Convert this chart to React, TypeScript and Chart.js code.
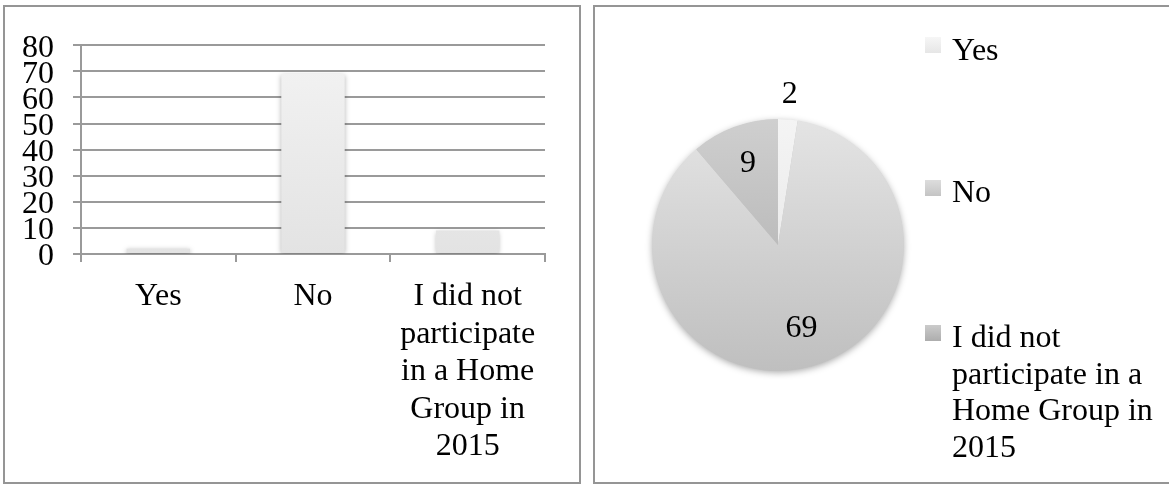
import React, { useEffect, useRef } from "react";
import { Chart, registerables } from "chart.js";

Chart.register(...registerables);

// ---------- data ----------
const categories = ["Yes", "No", "I did not participate in a Home Group in 2015"];
const responses = [2, 69, 9];
const axisTickLines = [["Yes"], ["No"], ["I did not", "participate", "in a Home", "Group in", "2015"]];
const legendLines = [["Yes"], ["No"], ["I did not", "participate in a", "Home Group in", "2015"]];
const yMin = 0;
const yMax = 80;
const yStep = 10;

// ---------- styles ----------
const FONT = "'Liberation Serif', 'Times New Roman', Times, serif";
const FONT_SIZE = 32;
const GRID = "#9a9a9a";
const PANEL_BORDER = "2px solid #959595";
const sliceStops: [string, string][] = [
  ["#f4f4f4", "#e2e2e2"],
  ["#e4e4e4", "#bfbfbf"],
  ["#cfcfcf", "#a9a9a9"],
];
const legendSwatch = [
  "linear-gradient(#f6f6f6, #e6e6e6)",
  "linear-gradient(#dddddd, #c4c4c4)",
  "linear-gradient(#cbcbcb, #adadad)",
];
const labelRadius = [1.2, 0.69, 0.69];

const barShadowPlugin = {
  id: "barShadow",
  beforeDatasetsDraw(chart: any) {
    const ctx = chart.ctx;
    ctx.save();
    ctx.shadowColor = "rgba(0,0,0,0.28)";
    ctx.shadowBlur = 5;
    ctx.shadowOffsetX = 0;
    ctx.shadowOffsetY = 1;
  },
  afterDatasetsDraw(chart: any) {
    chart.ctx.restore();
  },
};

const pieDecorPlugin = {
  id: "pieDecor",
  beforeDatasetsDraw(chart: any) {
    const meta = chart.getDatasetMeta(0);
    const arc = meta.data[0];
    if (!arc) return;
    const { x, y, outerRadius } = arc.getProps(["x", "y", "outerRadius"], true);
    const ctx = chart.ctx;
    ctx.save();
    ctx.shadowColor = "rgba(0,0,0,0.35)";
    ctx.shadowBlur = 7;
    ctx.shadowOffsetY = 2;
    ctx.fillStyle = "#c4c4c4";
    ctx.beginPath();
    ctx.arc(x, y, outerRadius - 0.5, 0, Math.PI * 2);
    ctx.fill();
    ctx.restore();
  },
  afterDatasetsDraw(chart: any) {
    const meta = chart.getDatasetMeta(0);
    const ctx = chart.ctx;
    ctx.save();
    ctx.font = `${FONT_SIZE}px ${FONT}`;
    ctx.fillStyle = "#000";
    ctx.textAlign = "center";
    ctx.textBaseline = "middle";
    meta.data.forEach((el: any, i: number) => {
      const { x, y, startAngle, endAngle, outerRadius } = el.getProps(
        ["x", "y", "startAngle", "endAngle", "outerRadius"],
        true
      );
      const mid = (startAngle + endAngle) / 2;
      const r = outerRadius * labelRadius[i];
      ctx.fillText(String(chart.data.datasets[0].data[i]), x + Math.cos(mid) * r, y + Math.sin(mid) * r);
    });
    ctx.restore();
  },
};

export default function App() {
  const barRef = useRef<HTMLCanvasElement | null>(null);
  const pieRef = useRef<HTMLCanvasElement | null>(null);

  useEffect(() => {
    const tickFont = { family: FONT, size: FONT_SIZE, lineHeight: 37.5 / FONT_SIZE };

    const bar = new Chart(barRef.current as HTMLCanvasElement, {
      type: "bar",
      data: {
        labels: axisTickLines as any,
        datasets: [
          {
            data: responses,
            backgroundColor: (c: any) => {
              const a = c.chart.chartArea;
              if (!a) return "#ebebeb";
              const g = c.chart.ctx.createLinearGradient(0, a.top, 0, a.bottom);
              g.addColorStop(0, "#f3f3f3");
              g.addColorStop(1, "#e3e3e3");
              return g;
            },
            borderWidth: 0,
            barPercentage: 0.41,
            categoryPercentage: 1,
          },
        ],
      },
      options: {
        animation: false,
        responsive: false,
        maintainAspectRatio: false,
        layout: { padding: { top: 34, right: 34, left: 0, bottom: 0 } },
        plugins: { legend: { display: false }, tooltip: { enabled: false } },
        scales: {
          x: {
            grid: {
              offset: true,
              drawOnChartArea: false,
              drawTicks: true,
              tickLength: 8,
              color: GRID,
              lineWidth: 2,
            },
            border: { color: GRID, width: 2 },
            ticks: {
              font: tickFont,
              color: "#000",
              padding: 16,
              maxRotation: 0,
              minRotation: 0,
              autoSkip: false,
            },
            afterFit: (s: any) => {
              s.height = 228;
            },
          },
          y: {
            min: yMin,
            max: yMax,
            ticks: {
              stepSize: yStep,
              autoSkip: false,
              font: { family: FONT, size: FONT_SIZE },
              color: "#000",
              padding: 19,
              labelOffset: 3,
            },
            grid: { color: GRID, lineWidth: 2, tickLength: 8 },
            border: { color: GRID, width: 2 },
            afterFit: (s: any) => {
              s.width = 76;
            },
          },
        },
      } as any,
      plugins: [barShadowPlugin],
    });

    const pie = new Chart(pieRef.current as HTMLCanvasElement, {
      type: "pie",
      data: {
        labels: categories,
        datasets: [
          {
            data: responses,
            backgroundColor: (c: any) => {
              const a = c.chart.chartArea;
              const stops = sliceStops[c.dataIndex] || sliceStops[0];
              if (!a) return stops[0];
              const g = c.chart.ctx.createLinearGradient(0, a.top, 0, a.bottom);
              g.addColorStop(0, stops[0]);
              g.addColorStop(1, stops[1]);
              return g;
            },
            borderWidth: 0,
          },
        ],
      },
      options: {
        animation: false,
        responsive: false,
        maintainAspectRatio: false,
        layout: { padding: { left: 57, top: 112, right: 265, bottom: 111 } },
        plugins: { legend: { display: false }, tooltip: { enabled: false } },
      } as any,
      plugins: [pieDecorPlugin],
    });

    return () => {
      bar.destroy();
      pie.destroy();
    };
  }, []);

  const legendTops = [31, 173, 318];
  const swatchTops = [37, 180, 325];

  return (
    <div
      style={{
        position: "absolute",
        left: 0,
        top: 0,
        width: 1169,
        height: 485,
        overflow: "hidden",
        background: "#fff",
        fontFamily: FONT,
      }}
    >
      <div
        style={{
          position: "absolute",
          left: 3,
          top: 5,
          width: 578,
          height: 479,
          border: PANEL_BORDER,
          boxSizing: "border-box",
        }}
      />
      <div
        style={{
          position: "absolute",
          left: 593,
          top: 5,
          width: 620,
          height: 479,
          border: PANEL_BORDER,
          boxSizing: "border-box",
        }}
      />
      <canvas ref={barRef} width={574} height={475} style={{ position: "absolute", left: 5, top: 7 }} />
      <canvas ref={pieRef} width={574} height={475} style={{ position: "absolute", left: 595, top: 7 }} />
      {legendLines.map((lines, i) => (
        <React.Fragment key={i}>
          <div
            style={{
              position: "absolute",
              left: 925,
              top: swatchTops[i],
              width: 16,
              height: 16,
              background: legendSwatch[i],
            }}
          />
          <div
            style={{
              position: "absolute",
              left: 952,
              top: legendTops[i],
              fontSize: FONT_SIZE,
              lineHeight: "36.5px",
              color: "#000",
              whiteSpace: "nowrap",
            }}
          >
            {lines.map((l, j) => (
              <div key={j}>{l}</div>
            ))}
          </div>
        </React.Fragment>
      ))}
    </div>
  );
}
